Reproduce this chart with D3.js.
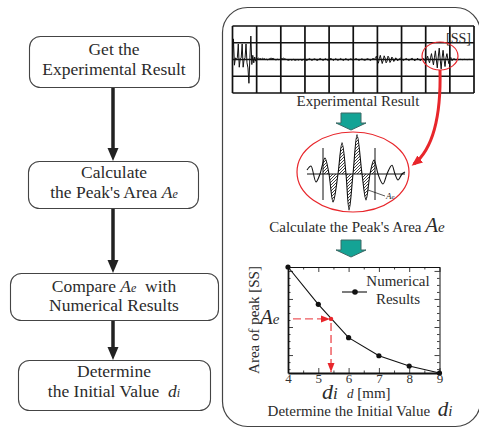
<!DOCTYPE html>
<html>
<head>
<meta charset="utf-8">
<script src="https://cdn.jsdelivr.net/npm/d3@7"></script>
<style>
body { margin: 0; background: #fff; }
svg { display: block; }
text { white-space: pre; font-family: "Liberation Serif", "Times New Roman", serif; }
</style>
</head>
<body>
<svg id="chart" width="479" height="428"></svg>
<script>
// ---- data ----
const stepLabels = [
    ["Get the", "Experimental Result"],
    ["Calculate", "the Peak's Area A_e"],
    ["Compare A_e  with", "Numerical Results"],
    ["Determine", "the Initial Value  d_i"]
];
const panelTitles = ["Experimental Result", "Calculate the Peak's Area A_e", "Determine the Initial Value  d_i"];
const signalUnit = "[SS]";

// recorded signal, one sample every 0.04 grid divisions
const signalStep = 0.04;
const signal = [
    0, 1.23, -0.34, 0.1, 0, 0.1, 0.93, -0.46, 0.05, 0.1, 0.93, -0.46, 0, 0.1, 0.93, -0.2, -0.5, -1.42, 0.1, 1.4, -0.3, 0.25, -0.2, 0.15, -0.1, 0.08,
    0.05, 0.08, 0.04, 0.06, 0.02, 0.07, 0.03, 0.05, 0.0, 0.02,
    -0.02, 0.0, 0.03, 0.06, 0.08, 0.05, 0.07, 0.02, 0.0, -0.03,
    0.0, 0.02, -0.02, 0.01, 0.04, 0.06, 0.05, 0.08, 0.04, 0.02,
    0.0, -0.03, -0.05, -0.02, 0.0, -0.04, -0.02, 0.01, -0.03, -0.05,
    -0.02, 0.0, -0.04, -0.02, 0.02, -0.03, -0.05, -0.01, 0.02, 0.0,
    -0.04, -0.06, -0.02, 0.03, 0.05, 0.0, -0.05, -0.03, 0.02, 0.04,
    0.01, -0.04, -0.06, -0.01, 0.04, 0.06, 0.02, -0.04, -0.05, 0.0,
    0.05, 0.03, -0.03, -0.06, -0.02, 0.04, 0.06, 0.01, -0.05, -0.04,
    0.02, 0.05, 0.0, -0.05, -0.03, 0.03, 0.06, 0.02, -0.04, -0.06,
    0.0, 0.05, 0.04, -0.03, -0.05, 0.0, 0.04, 0.03, -0.02, -0.04,
    -0.01, 0.03, 0.05, 0.02, -0.03, -0.05, -0.02, 0.02, 0.04, 0.01,
    -0.03, -0.05, -0.02, 0.03, 0.05, 0.02, -0.04, -0.06, 0.0, 0.05, 0.06, -0.02,
    0.12, 0.2, -0.1, -0.22, 0.05, 0.25, 0.0, -0.24, -0.05, 0.22, 0.08, -0.2, -0.1, 0.2, 0.1, -0.18, -0.08, 0.15, 0.05, -0.12, -0.04, 0.1, 0.02, -0.08, 0.0,
    0.05, 0.08, 0.03, -0.03, -0.06, -0.02, 0.04, 0.06, 0.01, -0.04, -0.06, 0.0, 0.05, 0.07, 0.02, -0.05, -0.07, -0.01, 0.05, 0.06, 0.0, -0.06, -0.05, 0.02, 0.08, 0.04, -0.06, -0.08,
    0.05, 0.2, -0.05, -0.2, 0.1, 0.35, 0.0, -0.32, 0.1, 0.52, 0.0, -0.5, 0.15, 0.68, 0.0, -0.56, 0.1, 0.55, 0.0, -0.42, 0.1, 0.35, 0.0, -0.25, 0.05,
    0.12, -0.06, -0.04, 0.05, 0.03, -0.03, 0.0, 0.02, -0.01, 0.0, 0.01, 0.0, -0.01, 0.0, 0.01, 0.0, 0.0, -0.01, 0.0, 0.01, 0.0, 0.0, 0.0, 0.0, 0.0
];

// zoomed peak (inside the big ellipse)
const zoomT = [0, 4, 9, 13, 18, 22, 26, 31, 35, 39, 42, 46, 50, 55, 59, 63, 67, 71, 76, 80, 85, 88, 91, 95, 98];
const zoomV = [0.1, 0.2, -0.2, 0, 0.4, 0, -0.7, 0, 0.78, 0, -0.9, 0, 0.98, 0, -0.65, 0, 0.35, 0, -0.25, 0, 0.22, 0, -0.15, 0, 0.05];
const peakWindow = [16, 68];

// numerical results
const dValues = [4, 5, 6, 7, 8, 9];
const areaValues = [4.14, 2.81, 1.62, 0.975, 0.61, 0.36];
const aeValue = 2.29;
const diValue = 5.42;
const yTicks = [1, 2, 3, 4];
const legendLines = ["Numerical", "Results"];
const yLabel = "Area of peak [SS]";

// ---- drawing ----
const svg = d3.select("#chart").attr("font-family", "'Liberation Serif', serif");
const ink = "#2b2b2b";
const red = "#e8262b";

let mathText = (sel, str, big, small) => {
    str.split(/(A_e|d_i)/).forEach(part => {
        if (part === "A_e" || part === "d_i") {
            sel.append("tspan").attr("font-style", "italic").attr("font-size", big).text(part[0]);
            sel.append("tspan").attr("font-style", "italic").attr("font-size", small).text(part[2]);
        } else if (part) {
            sel.append("tspan").text(part);
        }
    });
};

const defs = svg.append("defs");
defs.append("marker").attr("id", "blackHead")
    .attr("markerUnits", "userSpaceOnUse").attr("markerWidth", 14).attr("markerHeight", 12)
    .attr("refX", 0).attr("refY", 5.5).attr("orient", "auto")
    .append("path").attr("d", "M0,0L13,5.5L0,11Z").attr("fill", "#222");
defs.append("marker").attr("id", "redHead")
    .attr("markerUnits", "userSpaceOnUse").attr("markerWidth", 12).attr("markerHeight", 10)
    .attr("refX", 8).attr("refY", 4.5).attr("orient", "auto")
    .append("path").attr("d", "M0,0L11,4.5L0,9Z").attr("fill", red);
defs.append("marker").attr("id", "dashHead")
    .attr("markerUnits", "userSpaceOnUse").attr("markerWidth", 10).attr("markerHeight", 8)
    .attr("refX", 9).attr("refY", 3.5).attr("orient", "auto")
    .append("path").attr("d", "M0,0L9,3.5L0,7Z").attr("fill", red);
defs.append("pattern").attr("id", "hatch")
    .attr("patternUnits", "userSpaceOnUse").attr("width", 3).attr("height", 3)
    .append("path").attr("d", "M-1,1l2,-2M0,3l3,-3M2,4l2,-2")
    .attr("stroke", "#111").attr("stroke-width", 0.8);

/* LEFT FLOW CHART */
const boxes = [
    {x: 29, y: 36, w: 170, h: 51, lines: [55, 75]},
    {x: 28, y: 161, w: 170, h: 47, lines: [178, 198]},
    {x: 10, y: 273, w: 208, h: 47, lines: [292, 311]},
    {x: 18, y: 360, w: 192, h: 50, lines: [377, 397]}
];
const flowX = 114;

boxes.forEach((b, i) => {
    svg.append("rect")
        .attr("x", b.x + 0.5).attr("y", b.y + 0.5)
        .attr("width", b.w).attr("height", b.h)
        .attr("rx", 11)
        .attr("fill", "#fff").attr("stroke", "#444").attr("stroke-width", 1.1);
    stepLabels[i].forEach((line, j) => {
        let t = svg.append("text")
            .attr("x", flowX).attr("y", b.lines[j])
            .attr("text-anchor", "middle")
            .attr("font-size", 17.5).attr("fill", ink);
        mathText(t, line, 17.5, 12);
    });
    if (i < boxes.length - 1) {
        svg.append("line")
            .attr("x1", flowX - 1).attr("x2", flowX - 1)
            .attr("y1", b.y + b.h + 1).attr("y2", boxes[i + 1].y - 13)
            .attr("stroke", "#222").attr("stroke-width", 3.5)
            .attr("marker-end", "url(#blackHead)");
    }
});

/* RIGHT PANEL */
svg.append("rect")
    .attr("x", 222.5).attr("y", 7.5).attr("width", 258).attr("height", 419)
    .attr("rx", 25)
    .attr("fill", "none").attr("stroke", "#444").attr("stroke-width", 1.2);

// experimental signal on grid
const sx = d3.scaleLinear().domain([0, 10]).range([232.5, 474]);
const sy = d3.scaleLinear().domain([-2, 2]).range([93, 26]);

const grid = svg.append("g").attr("stroke", "#111").attr("stroke-width", 1.7);
grid.selectAll(".v").data(d3.range(0, 11)).join("line")
    .attr("x1", d => sx(d)).attr("x2", d => sx(d))
    .attr("y1", sy(-2)).attr("y2", sy(2));
grid.selectAll(".h").data(d3.range(-2, 3)).join("line")
    .attr("x1", sx(0)).attr("x2", sx(10))
    .attr("y1", d => sy(d)).attr("y2", d => sy(d));

svg.append("path")
    .datum(signal)
    .attr("fill", "none").attr("stroke", "#111").attr("stroke-width", 1)
    .attr("d", d3.line().x((d, i) => sx(i * signalStep)).y(d => sy(d)));

svg.append("text")
    .attr("x", 471).attr("y", 43).attr("text-anchor", "end")
    .attr("font-size", 14).attr("fill", ink).text(signalUnit);

svg.append("ellipse")
    .attr("cx", 440).attr("cy", 56).attr("rx", 18).attr("ry", 14)
    .attr("fill", "none").attr("stroke", red).attr("stroke-width", 1.2);

svg.append("path")
    .attr("d", "M440,70C441,112 434,148 414,164")
    .attr("fill", "none").attr("stroke", red).attr("stroke-width", 3)
    .attr("marker-end", "url(#redHead)");

let title1 = svg.append("text").attr("x", 358).attr("y", 106)
    .attr("text-anchor", "middle").attr("font-size", 15).attr("fill", ink);
mathText(title1, panelTitles[0], 20, 15);

let tealArrow = (cx, top, neck, tip) => {
    svg.append("path")
        .attr("d", `M${cx - 10},${top}H${cx + 10}V${neck}H${cx + 15}L${cx},${tip}L${cx - 15},${neck}H${cx - 10}Z`)
        .attr("fill", "#14a395").attr("stroke", "#3c6864").attr("stroke-width", 1);
};
tealArrow(351, 113, 123, 130);
tealArrow(351, 240, 250, 257);

// zoomed peak
const zx = d3.scaleLinear().domain([0, 98]).range([307, 405]);
const zy = d3.scaleLinear().domain([-1, 1]).range([214, 134]);
const zoomData = zoomT.map((t, i) => ({t: t, v: zoomV[i]}));

svg.append("ellipse")
    .attr("cx", 353).attr("cy", 172).attr("rx", 56).attr("ry", 40)
    .attr("fill", "#fff").attr("stroke", red).attr("stroke-width", 1.2);

defs.append("clipPath").attr("id", "peakClip")
    .append("rect")
    .attr("x", zx(peakWindow[0])).attr("y", zy(1))
    .attr("width", zx(peakWindow[1]) - zx(peakWindow[0])).attr("height", zy(-1) - zy(1));

svg.append("path")
    .datum(zoomData)
    .attr("clip-path", "url(#peakClip)")
    .attr("fill", "url(#hatch)")
    .attr("d", d3.area().curve(d3.curveMonotoneX).x(d => zx(d.t)).y0(zy(0)).y1(d => zy(d.v)));

svg.append("line")
    .attr("x1", zx(0)).attr("x2", zx(98)).attr("y1", zy(0)).attr("y2", zy(0))
    .attr("stroke", "#111").attr("stroke-width", 1);
svg.selectAll(".win").data(peakWindow).join("line")
    .attr("x1", d => zx(d)).attr("x2", d => zx(d))
    .attr("y1", zy(0.65)).attr("y2", zy(-0.65))
    .attr("stroke", "#111").attr("stroke-width", 1);
svg.append("path")
    .datum(zoomData)
    .attr("fill", "none").attr("stroke", "#111").attr("stroke-width", 1.1)
    .attr("d", d3.line().curve(d3.curveMonotoneX).x(d => zx(d.t)).y(d => zy(d.v)));

svg.append("line")
    .attr("x1", zx(61)).attr("y1", zy(-0.4)).attr("x2", zx(78)).attr("y2", zy(-0.55))
    .attr("stroke", "#111").attr("stroke-width", 0.7);
let aeSmall = svg.append("text").attr("x", zx(79)).attr("y", zy(-0.62))
    .attr("fill", ink).attr("font-size", 9);
mathText(aeSmall, "A_e", 9, 7);

let title2 = svg.append("text").attr("x", 357).attr("y", 232)
    .attr("text-anchor", "middle").attr("font-size", 15).attr("fill", ink);
mathText(title2, panelTitles[1], 21, 15);

// numerical results chart
const px = d3.scaleLinear().domain([4, 9]).range([288, 439.5]);
const py = d3.scaleLinear().domain([0.36, 4.14]).range([373, 267]);

const plot = svg.append("g");

let axisStyle = (g, w) => {
    g.attr("font-family", null);
    g.select(".domain").attr("stroke", "#111").attr("stroke-width", w);
    g.selectAll(".tick line").attr("stroke", "#111").attr("stroke-width", 0.8);
};

let gB = plot.append("g").attr("transform", `translate(0,${py.range()[0]})`)
    .call(d3.axisBottom(px).tickValues(dValues).tickFormat(d3.format("d")).tickSize(-5).tickPadding(1).tickSizeOuter(0));
gB.selectAll("text").attr("font-size", 13).attr("fill", "#333");
axisStyle(gB, 1.8);
plot.append("g").attr("transform", `translate(0,${py.range()[0]})`)
    .call(d3.axisBottom(px).tickValues(d3.range(4.5, 9, 1)).tickSize(-2.5).tickFormat("").tickSizeOuter(0))
    .call(g => axisStyle(g, 0));

let gT = plot.append("g").attr("transform", `translate(0,${py.range()[1]})`)
    .call(d3.axisTop(px).tickValues(dValues).tickSize(-5).tickFormat("").tickSizeOuter(0));
axisStyle(gT, 1);
plot.append("g").attr("transform", `translate(0,${py.range()[1]})`)
    .call(d3.axisTop(px).tickValues(d3.range(4.5, 9, 1)).tickSize(-2.5).tickFormat("").tickSizeOuter(0))
    .call(g => axisStyle(g, 0));

const yMinor = d3.range(0.5, 4.2, 0.25).filter(v => !yTicks.includes(v) && v > 0.36);
let gL = plot.append("g").attr("transform", `translate(${px.range()[0]},0)`)
    .call(d3.axisLeft(py).tickValues(yTicks).tickSize(-5).tickFormat("").tickSizeOuter(0));
axisStyle(gL, 1.8);
plot.append("g").attr("transform", `translate(${px.range()[0]},0)`)
    .call(d3.axisLeft(py).tickValues(yMinor).tickSize(-2.5).tickFormat("").tickSizeOuter(0))
    .call(g => axisStyle(g, 0));
let gR = plot.append("g").attr("transform", `translate(${px.range()[1]},0)`)
    .call(d3.axisRight(py).tickValues(yTicks).tickSize(-5).tickFormat("").tickSizeOuter(0));
axisStyle(gR, 1);
plot.append("g").attr("transform", `translate(${px.range()[1]},0)`)
    .call(d3.axisRight(py).tickValues(yMinor).tickSize(-2.5).tickFormat("").tickSizeOuter(0))
    .call(g => axisStyle(g, 0));

const results = dValues.map((d, i) => ({d: d, a: areaValues[i]}));
plot.append("path").datum(results)
    .attr("fill", "none").attr("stroke", "#111").attr("stroke-width", 1.1)
    .attr("d", d3.line().x(d => px(d.d)).y(d => py(d.a)));
plot.selectAll(".pt").data(results).join("circle")
    .attr("cx", d => px(d.d)).attr("cy", d => py(d.a)).attr("r", 2.6)
    .attr("fill", "#111");

// legend
plot.append("line").attr("x1", 342).attr("x2", 367).attr("y1", 292).attr("y2", 292)
    .attr("stroke", "#111").attr("stroke-width", 1.1);
plot.append("circle").attr("cx", 355).attr("cy", 292).attr("r", 2.8).attr("fill", "#111");
plot.selectAll(".leg").data(legendLines).join("text")
    .attr("x", 398).attr("y", (d, i) => 286 + i * 17.5)
    .attr("text-anchor", "middle").attr("font-size", 15).attr("fill", ink)
    .text(d => d);

// reading Ae off the curve
plot.append("line")
    .attr("x1", 293).attr("x2", px(diValue) - 1)
    .attr("y1", py(aeValue)).attr("y2", py(aeValue))
    .attr("stroke", "#ee5a5f").attr("stroke-width", 1.3).attr("stroke-dasharray", "8,4")
    .attr("marker-end", "url(#dashHead)");
plot.append("line")
    .attr("x1", px(diValue)).attr("x2", px(diValue))
    .attr("y1", py(aeValue) + 4).attr("y2", py.range()[0] - 1)
    .attr("stroke", red).attr("stroke-width", 1.1).attr("stroke-dasharray", "8,4")
    .attr("marker-end", "url(#dashHead)");
plot.append("circle").attr("cx", px(diValue)).attr("cy", py(aeValue)).attr("r", 2.2).attr("fill", red);

let aeLabel = plot.append("text").attr("x", 260).attr("y", py(aeValue) + 5).attr("fill", ink);
mathText(aeLabel, "A_e", 21, 15);
let diLabel = plot.append("text").attr("x", px(diValue) - 9).attr("y", 399)
    .attr("fill", ink);
mathText(diLabel, "d_i", 22, 17);

let xLabel = plot.append("text").attr("x", 347).attr("y", 398).attr("font-size", 15).attr("fill", ink);
xLabel.append("tspan").attr("font-style", "italic").attr("font-size", 13).text("d");
xLabel.append("tspan").text(" [mm]");

plot.append("text")
    .attr("transform", `translate(259,${(py.range()[0] + py.range()[1]) / 2}) rotate(-90)`)
    .attr("text-anchor", "middle").attr("font-size", 15).attr("fill", ink)
    .text(yLabel);

let title3 = svg.append("text").attr("x", 360).attr("y", 416)
    .attr("text-anchor", "middle").attr("font-size", 15).attr("fill", ink);
mathText(title3, panelTitles[2], 21, 15);
</script>
</body>
</html>
